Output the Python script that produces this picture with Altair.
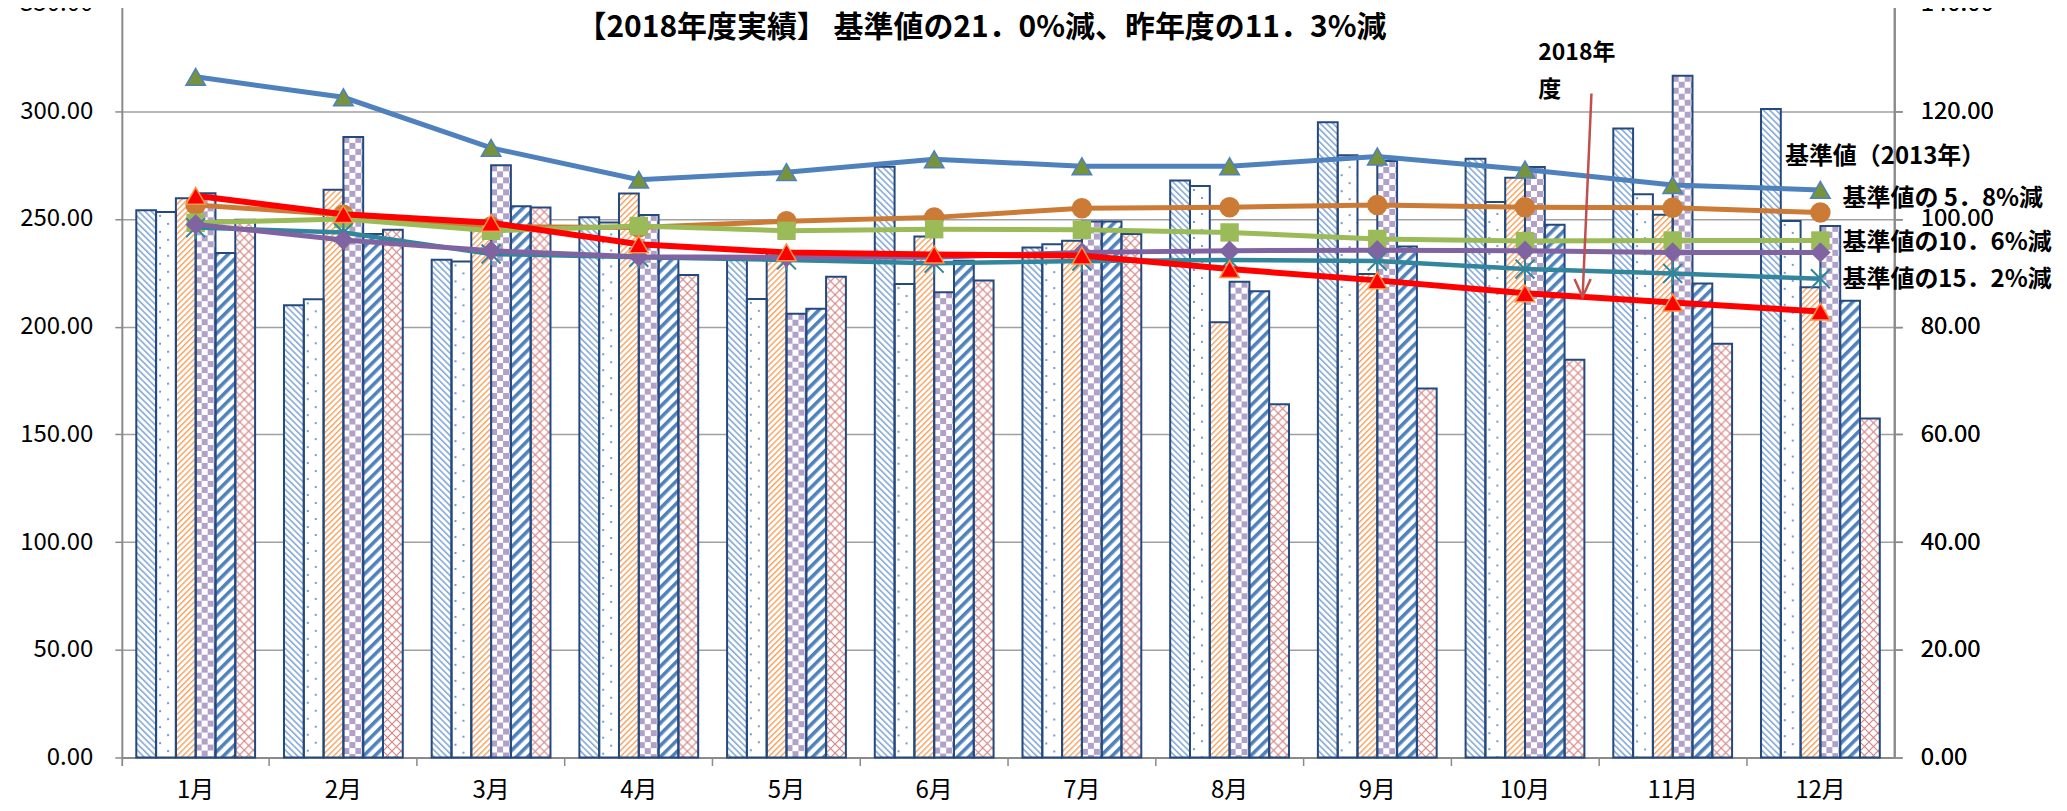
import base64
import altair as alt
import pandas as pd

# ---------------- data ----------------
months = ["1月", "2月", "3月", "4月", "5月", "6月", "7月", "8月", "9月", "10月", "11月", "12月"]
bar_names = ["系列1", "系列2", "系列3", "系列4", "系列5", "系列6"]

bar_1 = [254.1, 210.0, 231.1, 250.8, 231.4, 274.3, 236.8, 267.9, 294.9, 278.0, 292.0, 301.1]
bar_2 = [253.3, 212.7, 230.3, 248.4, 212.9, 219.8, 238.3, 265.3, 279.6, 257.9, 261.5, 249.1]
bar_3 = [259.6, 263.6, 246.0, 261.8, 234.0, 241.9, 239.9, 202.1, 224.5, 269.2, 252.0, 218.3]
bar_4 = [261.9, 288.1, 274.9, 251.9, 206.0, 216.0, 248.8, 220.9, 276.9, 274.1, 316.5, 246.8]
bar_5 = [234.2, 243.0, 255.9, 231.4, 208.3, 230.6, 248.8, 216.4, 237.2, 247.3, 220.1, 212.1]
bar_6 = [249.6, 245.0, 255.3, 224.0, 223.2, 221.4, 243.0, 164.0, 171.3, 184.7, 192.1, 157.4]

line_base_2013 = [126.4, 122.6, 113.2, 107.3, 108.7, 111.1, 109.8, 109.8, 111.6, 109.2, 106.3, 105.4]
line_cut_5_8 = [102.6, 100.8, 98.6, 98.4, 99.6, 100.3, 102.0, 102.2, 102.6, 102.2, 102.1, 101.2]
line_cut_10_6 = [99.3, 100.0, 97.8, 98.7, 97.8, 98.1, 98.0, 97.5, 96.3, 95.9, 96.0, 96.0]
line_purple = [99.0, 96.1, 94.1, 93.0, 92.9, 92.9, 93.8, 94.1, 94.2, 94.1, 93.8, 93.8]
line_cut_15_2 = [98.4, 97.5, 93.5, 92.9, 92.4, 91.8, 92.2, 92.4, 92.2, 90.7, 89.9, 88.9]
line_fy2018 = [104.3, 100.9, 99.3, 95.3, 93.8, 93.4, 93.2, 90.7, 88.6, 86.2, 84.5, 82.8]

left_ticks = [0, 50, 100, 150, 200, 250, 300, 350]
right_ticks = [0, 20, 40, 60, 80, 100, 120, 140]

title_text = "【2018年度実績】 基準値の21．0%減、昨年度の11．3%減"
label_2013 = "基準値（2013年）"
label_5_8 = "基準値の 5．8%減"
label_10_6 = "基準値の10．6%減"
label_15_2 = "基準値の15．2%減"

# ---------------- styles ----------------
FONT = "Noto Sans CJK JP"
NAVY = "#24497E"
GRID = "#A0A0A0"
AXISC = "#8A8A8A"
W, H = 1775, 755


def pattern_uri(tw, th, body, transform=""):
    tr = f" patternTransform='{transform}'" if transform else ""
    svg = (
        "<svg xmlns='http://www.w3.org/2000/svg'>"
        f"<defs><pattern id='p' patternUnits='userSpaceOnUse' width='{tw}' height='{th}'{tr}>"
        f"<rect width='{tw}' height='{th}' fill='#ffffff'/>{body}</pattern></defs>"
        "<rect width='100%' height='100%' fill='url(#p)'/></svg>"
    )
    return "data:image/svg+xml;base64," + base64.b64encode(svg.encode("utf-8")).decode("ascii")


patterns = [
    pattern_uri(4.5, 4.5, "<rect width='1.6' height='4.5' fill='#86A9D6'/>", "rotate(-45)"),
    pattern_uri(16, 16, "<circle cx='4' cy='4' r='1.1' fill='#5585C5'/><circle cx='12' cy='12' r='1.1' fill='#5585C5'/>"),
    pattern_uri(4.2, 4.2, "<rect width='1.4' height='4.2' fill='#F8A15E'/>", "rotate(45)"),
    pattern_uri(12, 12, "<rect width='6' height='6' fill='#B1A0C7'/><rect x='6' y='6' width='6' height='6' fill='#B1A0C7'/>"),
    pattern_uri(8, 8, "<rect width='3.6' height='8' fill='#4F81BD'/>", "rotate(45)"),
    pattern_uri(9, 9, "<path d='M0,0L9,9M9,0L0,9' stroke='#D47F7D' stroke-width='1.1'/>"),
]

x_scale = alt.Scale(domain=months, paddingInner=0, paddingOuter=0)
xo_scale = alt.Scale(domain=bar_names, paddingInner=0, paddingOuter=0.73)
yl = alt.Scale(domain=[0, 350], nice=False, zero=True)
yr = alt.Scale(domain=[0, 140], nice=False, zero=True)

# one shared x axis definition, repeated on every layer so the merge keeps it
x_axis = alt.Axis(orient="bottom", title=None, labelAngle=0, bandPosition=0, tickExtra=True,
                  grid=False, domainColor=AXISC, domainWidth=2, tickColor=AXISC, tickWidth=1.5,
                  tickSize=8, labelFont=FONT, labelFontSize=24, labelColor="#000000",
                  labelPadding=13)

bars_df = pd.DataFrame({
    "month": months * 6,
    "series": [n for n in bar_names for _ in months],
    "value": bar_1 + bar_2 + bar_3 + bar_4 + bar_5 + bar_6,
})

layers = []

# patterned fills
for name, uri in zip(bar_names, patterns):
    layers.append(
        alt.Chart(bars_df)
        .transform_filter(alt.datum.series == name)
        .mark_image(aspect=False)
        .encode(
            x=alt.X("month:N", scale=x_scale, axis=x_axis),
            xOffset=alt.XOffset("series:N", scale=xo_scale),
            y=alt.Y("value:Q", scale=yl, axis=None),
            y2=alt.datum(0),
            url=alt.value(uri),
        )
    )

# outlines + left axis
layers.append(
    alt.Chart(bars_df)
    .mark_bar(fill="transparent", stroke=NAVY, strokeWidth=2)
    .encode(
        x=alt.X("month:N", scale=x_scale, axis=x_axis),
        xOffset=alt.XOffset("series:N", scale=xo_scale),
        y=alt.Y(
            "value:Q", scale=yl,
            axis=alt.Axis(orient="left", values=left_ticks, format=".2f", title=None, grid=True,
                          gridColor=GRID, gridWidth=1.5, domainColor=AXISC, domainWidth=2,
                          tickColor=AXISC, tickWidth=1.5, tickSize=7, labelFont=FONT,
                          labelFontSize=24, labelColor="#000000", labelPadding=22),
        ),
    )
)


def series_layers(vals, color, width, point_kwargs, axis=None):
    df = pd.DataFrame({"month": months, "value": vals})
    base = alt.Chart(df).encode(
        x=alt.X("month:N", scale=x_scale, axis=x_axis),
        y=alt.Y("value:Q", scale=yr, axis=axis),
    )
    return [
        base.mark_line(color=color, strokeWidth=width),
        base.mark_point(opacity=1, **point_kwargs),
    ]


right_axis = alt.Axis(orient="right", values=right_ticks, format=".2f", title=None, grid=False,
                      domainColor=AXISC, domainWidth=2, tickColor=AXISC, tickWidth=1.5, tickSize=8,
                      labelFont=FONT, labelFontSize=24, labelColor="#000000", labelPadding=18)

ASTERISK = "M-1,-1L1,1M1,-1L-1,1M0,-1.2L0,1.2"

layers += series_layers(line_base_2013, "#4F81BD", 5,
                        dict(shape="triangle-up", size=380, filled=True, fill="#77933C",
                             stroke="#4F81BD", strokeWidth=1.5), axis=right_axis)
layers += series_layers(line_cut_5_8, "#CB7B36", 5,
                        dict(shape="circle", size=420, filled=True, fill="#CB7B36"))
layers += series_layers(line_cut_10_6, "#9BBB59", 5,
                        dict(shape="square", size=340, filled=True, fill="#9BBB59"))
layers += series_layers(line_cut_15_2, "#31859C", 4.5,
                        dict(shape=ASTERISK, size=360, filled=False, stroke="#31859C", strokeWidth=2))
layers += series_layers(line_purple, "#8064A2", 5,
                        dict(shape="diamond", size=420, filled=True, fill="#8064A2"))
layers += series_layers(line_fy2018, "#FF0000", 6,
                        dict(shape="triangle-up", size=380, filled=True, fill="#FF0000",
                             stroke="#F79646", strokeWidth=1.5))


def text_layer(text, month, band_pos, yv, size, align="left", weight="bold"):
    return (
        alt.Chart(pd.DataFrame({"t": [text]}))
        .mark_text(align=align, baseline="middle", font=FONT, fontSize=size,
                   fontWeight=weight, color="#000000")
        .encode(
            x=alt.XDatum(month, type="nominal", bandPosition=band_pos, scale=x_scale, axis=x_axis),
            y=alt.YDatum(yv, type="quantitative", scale=yr, axis=None),
            text="t:N",
        )
    )


layers.append(text_layer(title_text, "6月", 0.82, 135.5, 30, align="center"))
layers.append(text_layer("2018年", "10月", 0.59, 130.9, 23))
layers.append(text_layer("度", "10月", 0.59, 123.9, 23))
layers.append(text_layer(label_2013, "12月", 0.26, 111.6, 24))
layers.append(text_layer(label_5_8, "12月", 0.65, 103.8, 24))
layers.append(text_layer(label_10_6, "12月", 0.65, 95.5, 24))
layers.append(text_layer(label_15_2, "12月", 0.65, 88.6, 24))

arrow_df = pd.DataFrame({"a": [1]})
layers.append(
    alt.Chart(arrow_df)
    .mark_rule(color="#C0504D", strokeWidth=2.5)
    .encode(
        x=alt.XDatum("10月", type="nominal", bandPosition=0.95, scale=x_scale, axis=x_axis),
        x2=alt.X2Datum("10月", bandPosition=0.89),
        y=alt.YDatum(123.3, type="quantitative", scale=yr, axis=None),
        y2=alt.Y2Datum(85.5),
    )
)
layers.append(
    alt.Chart(arrow_df)
    .mark_point(shape="M-0.45,-1L0,0L0.45,-1", filled=False, stroke="#C0504D",
                strokeWidth=2.5, size=1296, opacity=1)
    .encode(
        x=alt.XDatum("10月", type="nominal", bandPosition=0.89, scale=x_scale, axis=x_axis),
        y=alt.YDatum(85.5, type="quantitative", scale=yr, axis=None),
    )
)

chart = (
    alt.layer(*layers)
    .resolve_scale(y="independent")
    .properties(
        width=W, height=H,
        autosize=alt.AutoSizeParams(type="none"),
        padding={"left": 114, "top": -5, "right": 165, "bottom": 53},
    )
    .configure_view(stroke="transparent")
)

chart.save("out.html", embed_options={"renderer": "svg", "actions": False})
